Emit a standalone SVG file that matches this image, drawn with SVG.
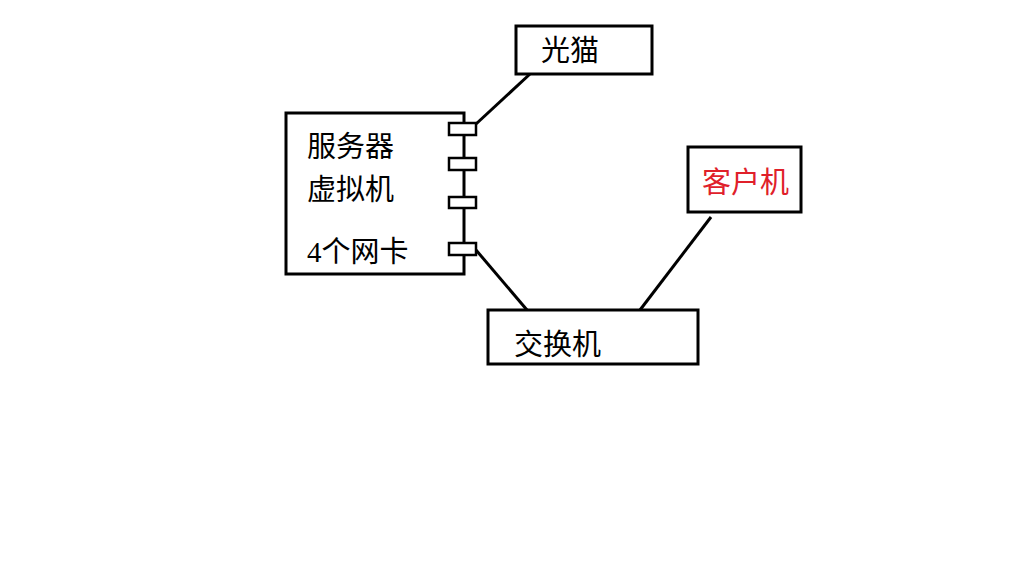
<svg xmlns="http://www.w3.org/2000/svg" width="1024" height="576" viewBox="0 0 1024 576">
<style>
.b{fill:#fff;stroke:#000;stroke-width:3}
.p{fill:#fff;stroke:#000;stroke-width:2.5}
text{font-family:"Liberation Serif","Noto Sans CJK SC",serif;font-size:29px;fill:#000}
line{stroke:#000;stroke-width:3}
</style>
<rect width="1024" height="576" fill="#fff"/>
<g id="connectors">
<line x1="476" y1="124" x2="530" y2="74"/>
<line x1="476" y1="250" x2="527" y2="310"/>
<line x1="711" y1="217" x2="640" y2="310"/>
</g>
<g id="guangmao"><rect class="b" x="516" y="26" width="136" height="48"/><text x="541" y="61">光猫</text></g>
<g id="server"><rect class="b" x="286" y="113" width="178" height="161"/>
<text x="307" y="157">服务器</text><text x="307" y="200">虚拟机</text><text x="307" y="262">4个网卡</text>
<rect class="p" x="449" y="123" width="27" height="12"/>
<rect class="p" x="449" y="158" width="27" height="12"/>
<rect class="p" x="449" y="197" width="27" height="11"/>
<rect class="p" x="449" y="243" width="27" height="12"/></g>
<g id="client"><rect class="b" x="688" y="147" width="113" height="65"/><text x="702" y="193" style="fill:#e0202a">客户机</text></g>
<g id="switch"><rect class="b" x="488" y="310" width="210" height="54"/><text x="514" y="355">交换机</text></g>
</svg>
